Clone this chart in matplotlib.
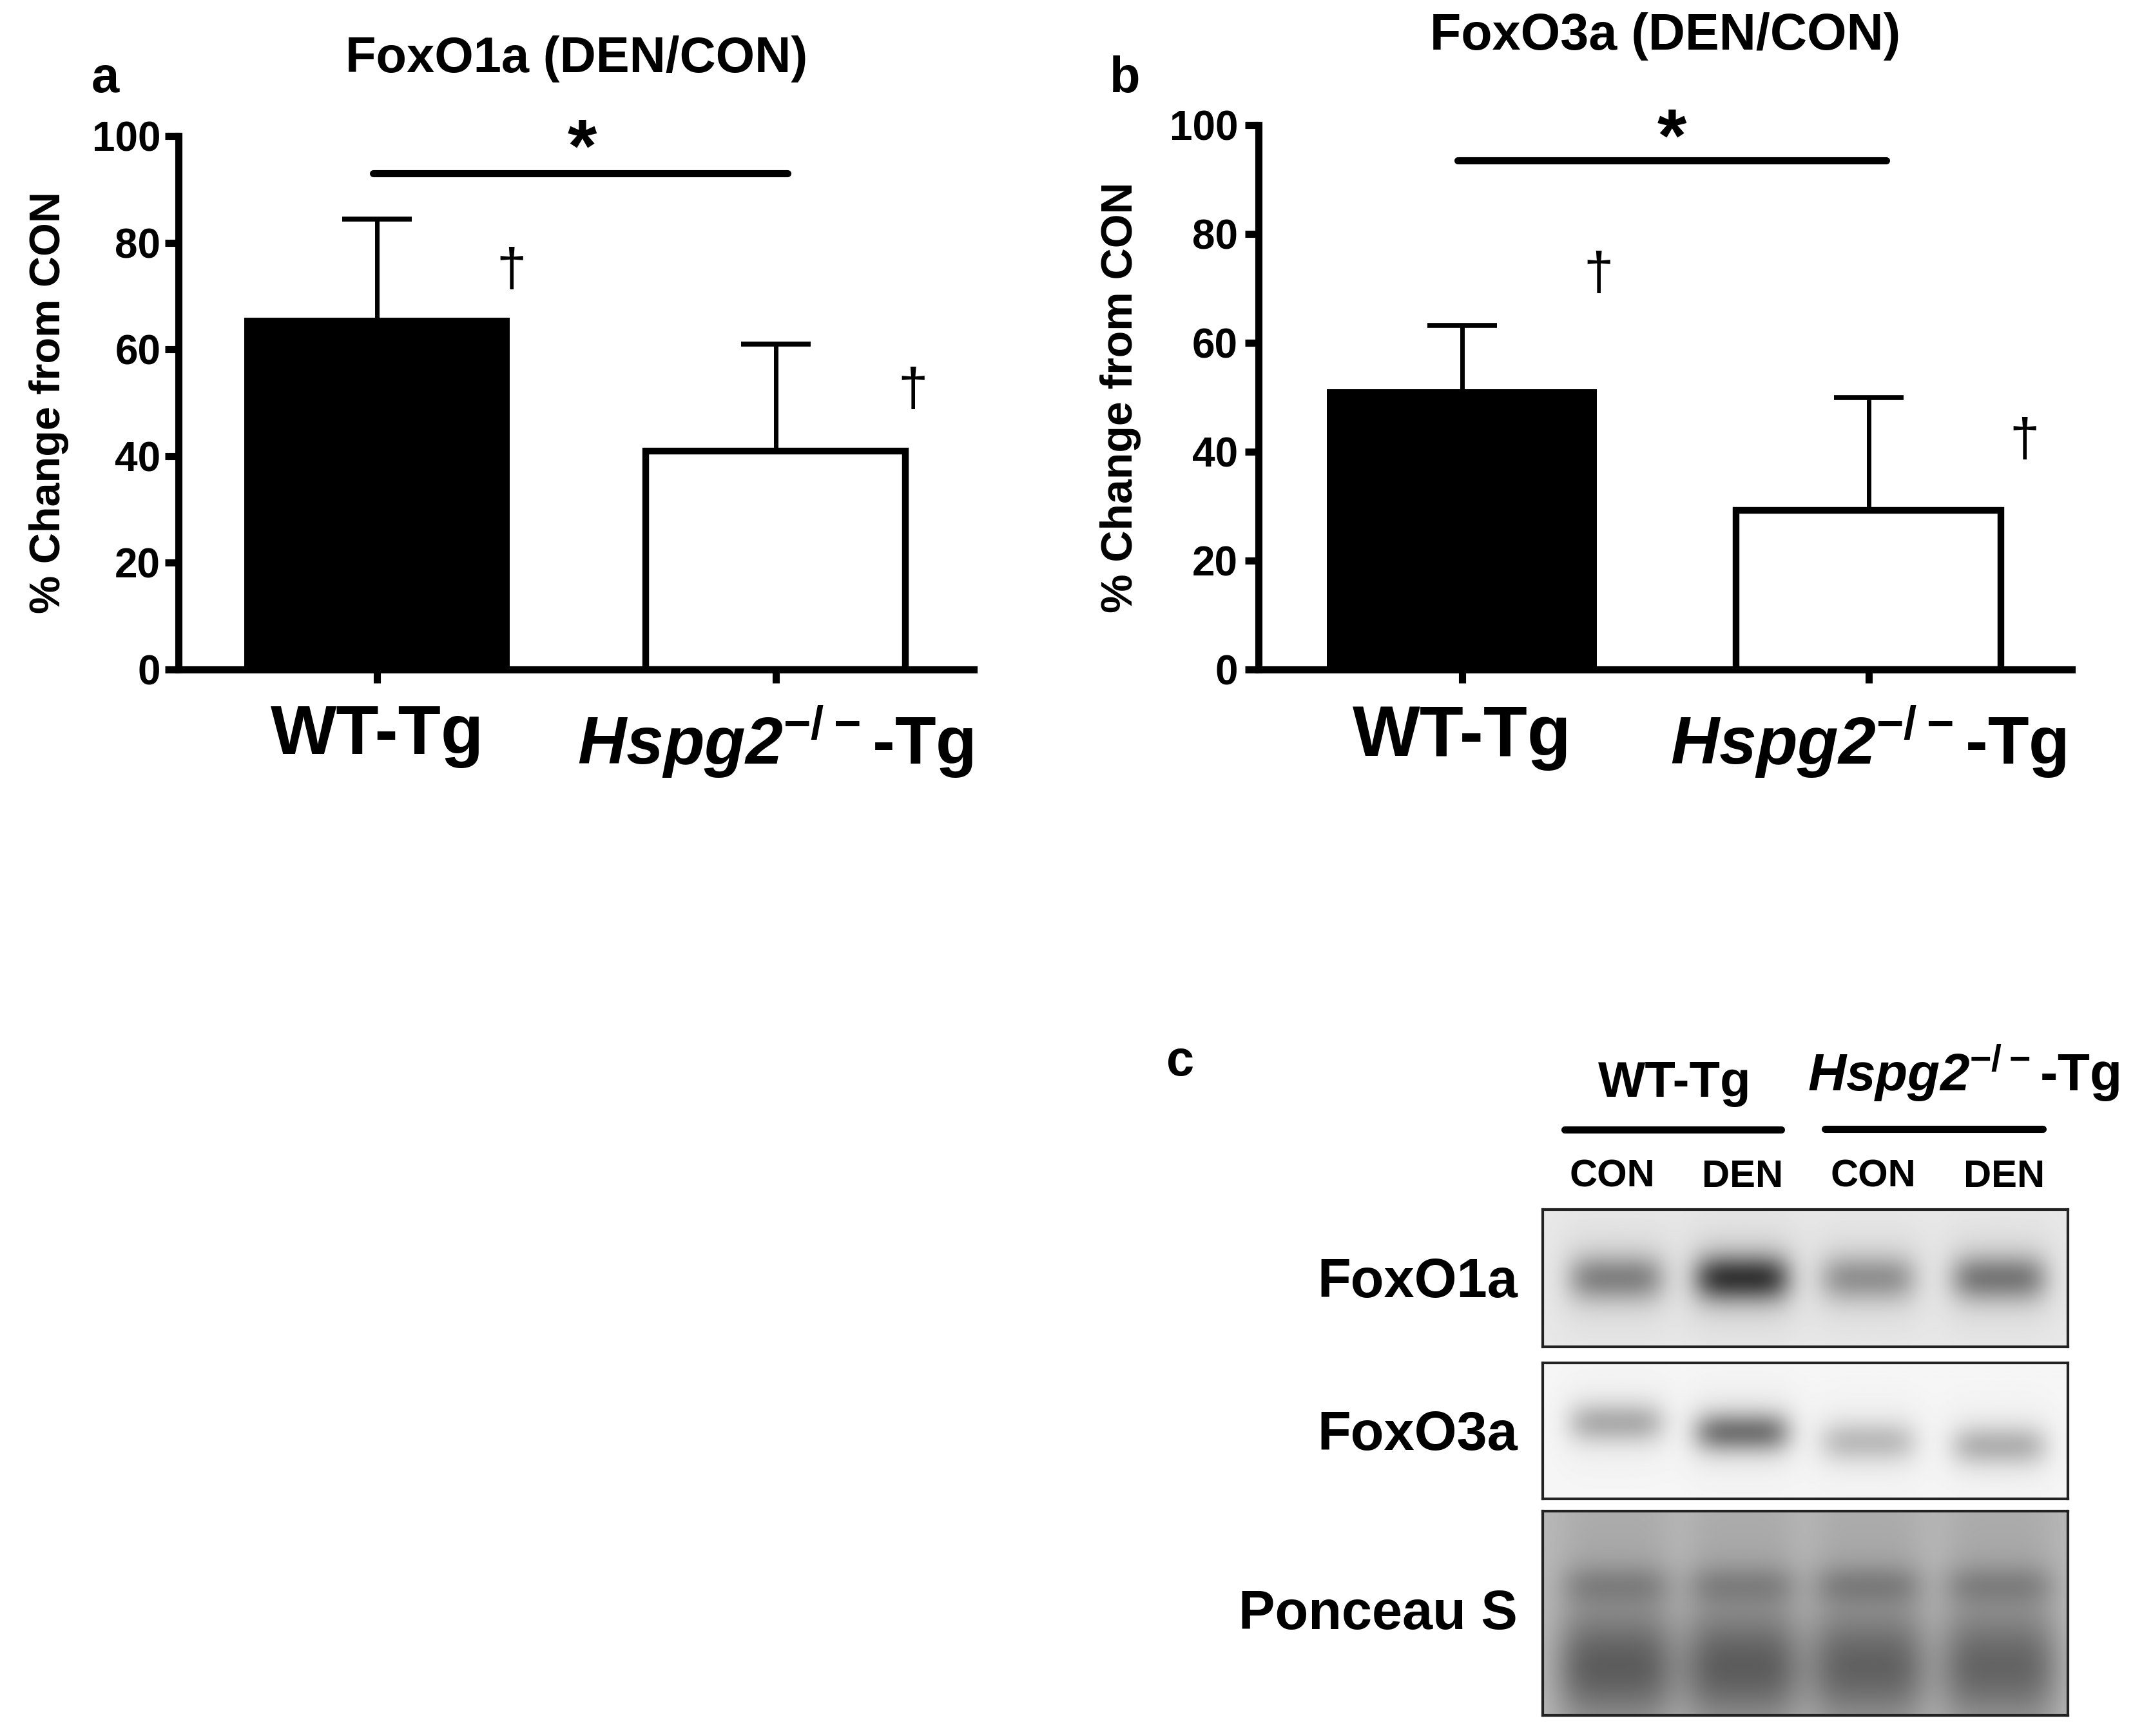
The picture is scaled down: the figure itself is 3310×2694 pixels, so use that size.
#!/usr/bin/env python3
"""FoxO1a / FoxO3a bar panels with the western blot panel below."""

import matplotlib

matplotlib.use("Agg")
import matplotlib.pyplot as plt
import numpy as np

plt.rcParams["font.family"] = ["Liberation Sans", "DejaVu Sans"]
plt.rcParams["font.weight"] = "bold"
plt.rcParams["mathtext.fontset"] = "custom"
plt.rcParams["mathtext.rm"] = "Liberation Sans:bold"
plt.rcParams["mathtext.bf"] = "Liberation Sans:bold"
plt.rcParams["mathtext.bfit"] = "Liberation Sans:italic:bold"
plt.rcParams["mathtext.default"] = "bf"

WIDTH, HEIGHT = 3310, 2694

groups = ["WT-Tg", r"$\mathbfit{Hspg2}^{-/-}$-Tg"]
y_ticks = [0, 20, 40, 60, 80, 100]

foxo1a_means = [66, 41]
foxo1a_errors = [18.4, 20]
foxo1a_dagger_x = [0.337, 1.345]
foxo1a_dagger_y = [74.5, 52]

foxo3a_means = [51.5, 29.2]
foxo3a_errors = [11.7, 20.8]
foxo3a_dagger_x = [0.336, 1.383]
foxo3a_dagger_y = [72.3, 41.8]

lanes = ["CON", "DEN", "CON", "DEN"]
lane_x = [0.14, 0.38, 0.62, 0.87]

# band darkness per lane, read from the blot
foxo1a_dark = [0.33, 0.60, 0.28, 0.37]
foxo1a_halo = [0.07, 0.10, 0.06, 0.07]
foxo1a_row = [0.50, 0.50, 0.50, 0.50]
foxo3a_dark = [0.25, 0.45, 0.19, 0.23]
foxo3a_halo = [0.04, 0.06, 0.04, 0.04]
foxo3a_row = [0.44, 0.51, 0.58, 0.61]
ponceau_main = [0.30, 0.30, 0.28, 0.27]
ponceau_mid = [0.13, 0.13, 0.14, 0.13]
ponceau_smear = [0.07, 0.07, 0.07, 0.07]


def px(x, y):
    return x / WIDTH, 1 - y / HEIGHT


def add_axes_px(fig, left, top, right, bottom):
    return fig.add_axes(
        [left / WIDTH, 1 - bottom / HEIGHT, (right - left) / WIDTH, (bottom - top) / HEIGHT]
    )


def bar_panel(ax, means, errors, dagger_x, dagger_y, sig_x, sig_y, star_x, xlim, label_sizes, tick_pad):
    ax.bar(0, means[0], width=0.665, color="black", edgecolor="black", linewidth=0, zorder=3)
    ax.bar(1, means[1], width=0.652, color="white", edgecolor="black", linewidth=7.5, zorder=3)
    # lower arm runs down behind the bar, only the upper arm shows
    ax.errorbar(
        [0, 1],
        means,
        yerr=[means, errors],
        fmt="none",
        ecolor="black",
        elinewidth=5,
        capsize=39,
        capthick=5.5,
        zorder=2,
    )
    ax.plot(sig_x, [sig_y, sig_y], color="black", linewidth=8, solid_capstyle="round", clip_on=False)
    ax.text(star_x, 98.4, "*", fontsize=84, ha="center", va="center_baseline", clip_on=False)
    for x, y in zip(dagger_x, dagger_y):
        ax.text(x, y, "\u2020", fontsize=60, fontweight="normal", ha="center", va="center")

    ax.set_xlim(*xlim)
    ax.set_ylim(0, 100)
    ax.set_yticks(y_ticks)
    ax.set_xticks([0, 1])
    ax.set_xticklabels(groups)
    for tick_label, size in zip(ax.get_xticklabels(), label_sizes):
        tick_label.set_fontsize(size)
    ax.tick_params(axis="y", labelsize=46, width=8, length=15, pad=tick_pad)
    ax.tick_params(axis="x", width=8, length=15, pad=23)
    for side in ["top", "right"]:
        ax.spines[side].set_visible(False)
    for side in ["left", "bottom"]:
        ax.spines[side].set_linewidth(8)
        ax.spines[side].set_capstyle("projecting")


def lane_profile(xx, center, half_width):
    return np.exp(-(((xx - center) / half_width) ** 4))


def blot_image(background, bands, rows=240, cols=620):
    yy, xx = np.mgrid[0:1:rows * 1j, 0:1:cols * 1j]
    image = np.full_like(xx, background)
    for dark, row, half_h, half_w in bands:
        for lane, d, r in zip(lane_x, dark, row):
            image -= d * lane_profile(xx, lane, half_w) * np.exp(-(((yy - r) / half_h) ** 2))
    return np.clip(image, 0, 1)


def blot_panel(fig, top, bottom, background, bands):
    ax = add_axes_px(fig, 2394, top, 3209, bottom)
    ax.imshow(blot_image(background, bands), cmap="gray", vmin=0, vmax=1, aspect="auto")
    ax.set_xticks([])
    ax.set_yticks([])
    for spine in ax.spines.values():
        spine.set_linewidth(3)
        spine.set_edgecolor("#222222")
    return ax


def main():
    fig = plt.figure(figsize=(WIDTH / 100, HEIGHT / 100), dpi=100)

    ax_a = add_axes_px(fig, 277, 211, 1511, 1039)
    bar_panel(
        ax_a, foxo1a_means, foxo1a_errors, foxo1a_dagger_x, foxo1a_dagger_y,
        [-0.01, 1.03], 93, 0.514, (-0.498, 1.497), (78, 75), 5,
    )
    ax_b = add_axes_px(fig, 1953, 194, 3215, 1039)
    bar_panel(
        ax_b, foxo3a_means, foxo3a_errors, foxo3a_dagger_x, foxo3a_dagger_y,
        [-0.01, 1.044], 93.5, 0.517, (-0.50, 1.50), (80, 75), 8,
    )

    fig.text(*px(895, 92), "FoxO1a (DEN/CON)", fontsize=56, ha="center", va="center")
    fig.text(*px(2584, 56), "FoxO3a (DEN/CON)", fontsize=57, ha="center", va="center")
    fig.text(*px(76, 625), "% Change from CON", fontsize=48, rotation=90, ha="center", va="center")
    fig.text(*px(1739, 617), "% Change from CON", fontsize=49, rotation=90, ha="center", va="center")
    fig.text(*px(163, 122), "a", fontsize=56, ha="center", va="center")
    fig.text(*px(1746, 122), "b", fontsize=56, ha="center", va="center")
    fig.text(*px(1832, 1648), "c", fontsize=56, ha="center", va="center")

    blot_panel(fig, 1877, 2090, 0.91, [
        (foxo1a_dark, foxo1a_row, 0.17, 0.09),
        (foxo1a_halo, foxo1a_row, 0.36, 0.11),
    ])
    blot_panel(fig, 2115, 2326, 0.965, [
        (foxo3a_dark, foxo3a_row, 0.15, 0.09),
        (foxo3a_halo, foxo3a_row, 0.32, 0.11),
    ])
    blot_panel(
        fig, 2345, 2662, 0.72,
        [
            (ponceau_main, [0.77] * 4, 0.27, 0.115),
            (ponceau_mid, [0.36] * 4, 0.10, 0.105),
            (ponceau_smear, [0.45] * 4, 0.70, 0.105),
        ],
    )

    fig.text(*px(2599, 1682), "WT-Tg", fontsize=56, ha="center", va="center")
    fig.text(*px(3047, 1665), groups[1], fontsize=59, ha="center", va="center")
    fig.add_artist(plt.Line2D([2428 / WIDTH, 2764 / WIDTH], [1 - 1753 / HEIGHT] * 2,
                              color="black", linewidth=8, solid_capstyle="round"))
    fig.add_artist(plt.Line2D([2832 / WIDTH, 3170 / WIDTH], [1 - 1752 / HEIGHT] * 2,
                              color="black", linewidth=8, solid_capstyle="round"))
    for lane, x in zip(lanes, [2502, 2704, 2907, 3110]):
        fig.text(*px(x, 1826), lane, fontsize=43, ha="center", va="center")
    fig.text(*px(2355, 1991), "FoxO1a", fontsize=61, ha="right", va="center")
    fig.text(*px(2355, 2228), "FoxO3a", fontsize=61, ha="right", va="center")
    fig.text(*px(2355, 2506), "Ponceau S", fontsize=61, ha="right", va="center")

    fig.savefig("out.png", dpi=100)


if __name__ == "__main__":
    main()
